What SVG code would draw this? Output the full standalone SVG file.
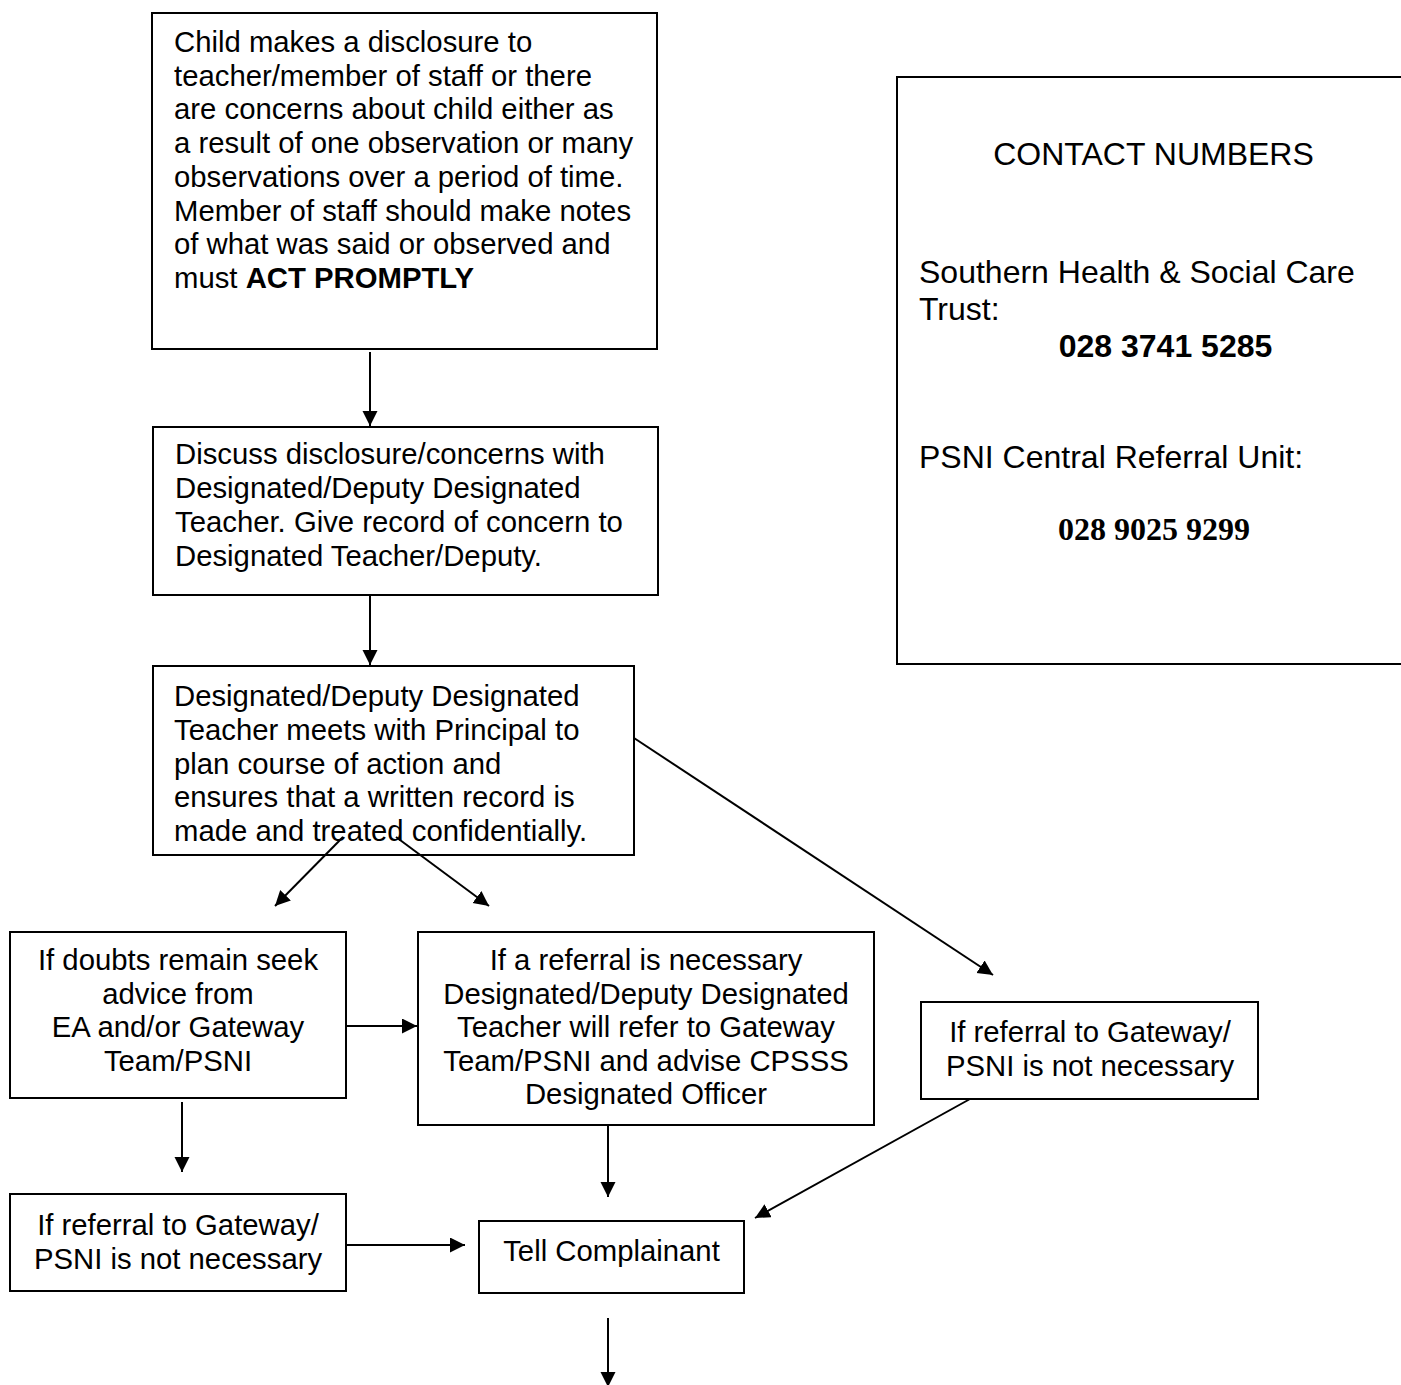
<svg xmlns="http://www.w3.org/2000/svg" width="1401" height="1385" viewBox="0 0 1401 1385">
<defs>
<marker id="ah" markerUnits="userSpaceOnUse" markerWidth="16" markerHeight="16" refX="15" refY="7.5" orient="auto">
<path d="M0,0 L15,7.5 L0,15 z" fill="#000"/>
</marker>
<style>
.box{fill:#fff;stroke:#000;stroke-width:2}
.t{font-family:"Liberation Sans",Arial,sans-serif;font-size:29.3px;fill:#000}
.c{text-anchor:middle}
.k{font-family:"Liberation Sans",Arial,sans-serif;font-size:32px;fill:#000}
.b{font-weight:bold}
.tm{font-family:"Liberation Serif","Times New Roman",serif;font-size:32px;font-weight:bold;fill:#000}
.ln{stroke:#000;stroke-width:2;fill:none;marker-end:url(#ah)}
</style>
</defs>
<rect width="1401" height="1385" fill="#fff"/>
<g id="n1">
<rect class="box" x="152" y="13" width="505" height="336"/>
<text class="t" x="174" y="52">Child makes a disclosure to</text>
<text class="t" x="174" y="85.7">teacher/member of staff or there</text>
<text class="t" x="174" y="119.4">are concerns about child either as</text>
<text class="t" x="174" y="153.1">a result of one observation or many</text>
<text class="t" x="174" y="186.8">observations over a period of time.</text>
<text class="t" x="174" y="220.5">Member of staff should make notes</text>
<text class="t" x="174" y="254.2">of what was said or observed and</text>
<text class="t" x="174" y="288">must <tspan class="b">ACT PROMPTLY</tspan></text>
</g>
<g id="n2">
<rect class="box" x="153" y="427" width="505" height="168"/>
<text class="t" x="175" y="464">Discuss disclosure/concerns with</text>
<text class="t" x="175" y="498">Designated/Deputy Designated</text>
<text class="t" x="175" y="531.5">Teacher. Give record of concern to</text>
<text class="t" x="175" y="565.5">Designated Teacher/Deputy.</text>
</g>
<g id="n3">
<rect class="box" x="153" y="666" width="481" height="189"/>
<text class="t" x="174" y="706">Designated/Deputy Designated</text>
<text class="t" x="174" y="740">Teacher meets with Principal to</text>
<text class="t" x="174" y="773.5">plan course of action and</text>
<text class="t" x="174" y="807">ensures that a written record is</text>
<text class="t" x="174" y="841">made and treated confidentially.</text>
</g>
<g id="contacts">
<rect class="box" x="897" y="77" width="520" height="587"/>
<text class="k c" x="1153.5" y="165">CONTACT NUMBERS</text>
<text class="k" x="919" y="283">Southern Health &amp; Social Care</text>
<text class="k" x="919" y="320">Trust:</text>
<text class="k c b" x="1165.5" y="357">028 3741 5285</text>
<text class="k" x="919" y="468">PSNI Central Referral Unit:</text>
<text class="tm c" x="1154" y="540">028 9025 9299</text>
</g>
<g id="n4">
<rect class="box" x="10" y="932" width="336" height="166"/>
<text class="t c" x="178" y="970">If doubts remain seek</text>
<text class="t c" x="178" y="1003.5">advice from</text>
<text class="t c" x="178" y="1037">EA and/or Gateway</text>
<text class="t c" x="178" y="1070.5">Team/PSNI</text>
</g>
<g id="n5">
<rect class="box" x="418" y="932" width="456" height="193"/>
<text class="t c" x="646" y="970">If a referral is necessary</text>
<text class="t c" x="646" y="1003.5">Designated/Deputy Designated</text>
<text class="t c" x="646" y="1037">Teacher will refer to Gateway</text>
<text class="t c" x="646" y="1070.5">Team/PSNI and advise CPSSS</text>
<text class="t c" x="646" y="1104">Designated Officer</text>
</g>
<g id="n6">
<rect class="box" x="921" y="1002" width="337" height="97"/>
<text class="t c" x="1090" y="1042">If referral to Gateway/</text>
<text class="t c" x="1090" y="1075.5">PSNI is not necessary</text>
</g>
<g id="n7">
<rect class="box" x="10" y="1194" width="336" height="97"/>
<text class="t c" x="178" y="1235">If referral to Gateway/</text>
<text class="t c" x="178" y="1268.5">PSNI is not necessary</text>
</g>
<g id="n8">
<rect class="box" x="479" y="1221" width="265" height="72"/>
<text class="t c" x="611.5" y="1261">Tell Complainant</text>
</g>
<g id="connectors">
<line class="ln" x1="370" y1="352" x2="370" y2="426"/>
<line class="ln" x1="370" y1="595" x2="370" y2="665"/>
<line class="ln" x1="343" y1="837" x2="275" y2="906"/>
<line class="ln" x1="396" y1="837" x2="489" y2="906"/>
<line class="ln" x1="634" y1="738" x2="993" y2="975"/>
<line class="ln" x1="346" y1="1026" x2="417" y2="1026"/>
<line class="ln" x1="182" y1="1102" x2="182" y2="1172"/>
<line class="ln" x1="346" y1="1245" x2="465" y2="1245"/>
<line class="ln" x1="608" y1="1125" x2="608" y2="1197"/>
<line class="ln" x1="970" y1="1099" x2="755" y2="1218"/>
<line class="ln" x1="608" y1="1318" x2="608" y2="1387"/>
</g>
</svg>
